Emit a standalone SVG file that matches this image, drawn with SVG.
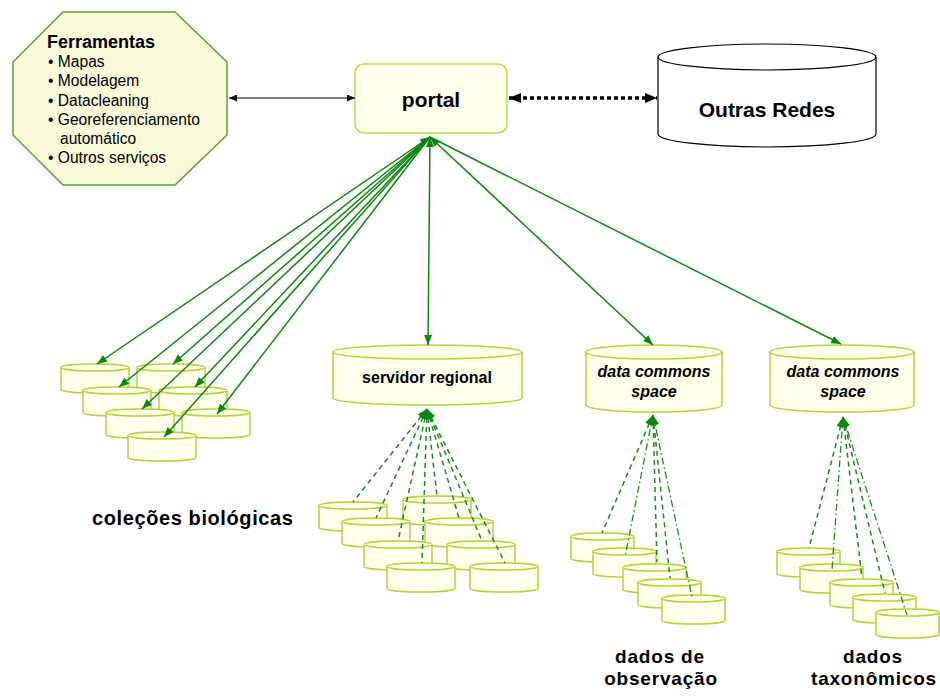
<svg xmlns="http://www.w3.org/2000/svg" width="940" height="696" viewBox="0 0 940 696">
<style>
text{font-family:"Liberation Sans",Arial,sans-serif;fill:#000}
.b{font-weight:bold}
.node{fill:#FFFFEB;stroke:#B2D43A;stroke-width:1.5}
.big{fill:#FFFFEB;stroke:#B2D43A;stroke-width:1.5}
.g{stroke:#0B870B;stroke-width:1.5;fill:none}
.d{stroke:#1A8A1A;stroke-width:1.5;fill:none;stroke-dasharray:5,4}
.dd{stroke:#1A8A1A;stroke-width:1.3;fill:none;stroke-dasharray:7,3,1.5,3}
.lab{font-weight:bold;font-size:19px;letter-spacing:0.8px}
</style>
<defs>
<marker id="ag" viewBox="0 0 10 8" refX="10" refY="4" markerWidth="10" markerHeight="8" markerUnits="userSpaceOnUse" orient="auto-start-reverse"><path d="M0,0 L10,4 L0,8 z" fill="#0B870B"/></marker>
<marker id="ak" viewBox="0 0 8 7" refX="8" refY="3.5" markerWidth="8" markerHeight="7" markerUnits="userSpaceOnUse" orient="auto-start-reverse"><path d="M0,0 L8,3.5 L0,7 z" fill="#000"/></marker>
<marker id="akb" viewBox="0 0 12 10" refX="12" refY="5" markerWidth="12" markerHeight="10" markerUnits="userSpaceOnUse" orient="auto-start-reverse"><path d="M0,0 L12,5 L0,10 z" fill="#000"/></marker>
<g id="cylS"><path class="node" d="M0,3.5 A34,3.5 0 0 1 68,3.5 V25.5 A34,3.5 0 0 1 0,25.5 Z"/><path class="node" fill="none" d="M0,3.5 A34,3.5 0 0 0 68,3.5"/></g>
<g id="cylT"><path class="node" d="M0,3.5 A31.5,3.5 0 0 1 63,3.5 V25.5 A31.5,3.5 0 0 1 0,25.5 Z"/><path class="node" fill="none" d="M0,3.5 A31.5,3.5 0 0 0 63,3.5"/></g>
</defs>
<rect width="940" height="696" fill="#fff"/>

<g id="ferramentas">
<polygon points="63,12 175,12 227,62 227,135 175,185 63,185 13,135 13,62" fill="#FAFADB" stroke="#5BA032" stroke-width="1.5"/>
<text class="b" x="47" y="48" font-size="18">Ferramentas</text>
<text x="48" y="67" font-size="15.6">• Mapas</text>
<text x="48" y="86" font-size="15.6">• Modelagem</text>
<text x="48" y="106" font-size="15.6">• Datacleaning</text>
<text x="48" y="125" font-size="15.6">• Georeferenciamento</text>
<text x="60" y="144" font-size="15.6">automático</text>
<text x="48" y="163" font-size="15.6">• Outros serviços</text>
</g>

<g id="portal">
<rect x="355" y="64" width="152" height="69" rx="9" fill="#FFFFEC" stroke="#B8DC50" stroke-width="1.5"/>
<text class="b" x="431" y="107" font-size="21" text-anchor="middle">portal</text>
</g>

<g id="outras-redes">
<path d="M658,57 A109,13 0 0 1 876,57 V134 A109,13 0 0 1 658,134 Z" fill="#fff" stroke="#000" stroke-width="1.2"/>
<path d="M658,57 A109,13 0 0 0 876,57" fill="none" stroke="#000" stroke-width="1.2"/>
<text class="b" x="767" y="117" font-size="21" text-anchor="middle">Outras Redes</text>
</g>

<g id="servidor-regional">
<path class="big" d="M333,352 A94.5,7 0 0 1 522,352 V398 A94.5,7 0 0 1 333,398 Z"/>
<path class="big" fill="none" d="M333,352 A94.5,7 0 0 0 522,352"/>
<text class="b" x="427" y="383" font-size="16" text-anchor="middle">servidor regional</text>
</g>

<g id="data-commons-1">
<path class="big" d="M586,352 A68,7 0 0 1 722,352 V405 A68,7 0 0 1 586,405 Z"/>
<path class="big" fill="none" d="M586,352 A68,7 0 0 0 722,352"/>
<text class="b" x="654" y="377" font-size="16" font-style="italic" text-anchor="middle">data commons</text>
<text class="b" x="654" y="397" font-size="16" font-style="italic" text-anchor="middle">space</text>
</g>

<g id="data-commons-2">
<path class="big" d="M770,352 A72,7 0 0 1 914,352 V405 A72,7 0 0 1 770,405 Z"/>
<path class="big" fill="none" d="M770,352 A72,7 0 0 0 914,352"/>
<text class="b" x="843" y="377" font-size="16" font-style="italic" text-anchor="middle">data commons</text>
<text class="b" x="843" y="397" font-size="16" font-style="italic" text-anchor="middle">space</text>
</g>

<g id="colecoes">
<use href="#cylS" x="61" y="364"/>
<use href="#cylS" x="137" y="364"/>
<use href="#cylS" x="83" y="387"/>
<use href="#cylS" x="159" y="387"/>
<use href="#cylS" x="106" y="409"/>
<use href="#cylS" x="182" y="409"/>
<use href="#cylS" x="128" y="432"/>
</g>

<g id="regionais">
<use href="#cylS" x="319" y="502"/>
<use href="#cylS" x="403" y="496"/>
<use href="#cylS" x="342" y="518"/>
<use href="#cylS" x="425" y="518"/>
<use href="#cylS" x="364" y="541"/>
<use href="#cylS" x="447" y="541"/>
<use href="#cylS" x="387" y="563"/>
<use href="#cylS" x="470" y="563"/>
</g>

<g id="observacao">
<use href="#cylT" x="571" y="533"/>
<use href="#cylT" x="593" y="548"/>
<use href="#cylT" x="623" y="564"/>
<use href="#cylT" x="638" y="579"/>
<use href="#cylT" x="662" y="595"/>
</g>

<g id="taxonomicos">
<use href="#cylT" x="777" y="548"/>
<use href="#cylT" x="800" y="564"/>
<use href="#cylT" x="830" y="579"/>
<use href="#cylT" x="853" y="594"/>
<use href="#cylT" x="876" y="609"/>
</g>

<g id="labels">
<text class="b" x="92" y="525" font-size="20" letter-spacing="0.6">coleções biológicas</text>
<text class="lab" x="660" y="663" text-anchor="middle">dados de</text>
<text class="lab" x="661" y="685" text-anchor="middle">observação</text>
<text class="lab" x="873" y="663" text-anchor="middle">dados</text>
<text class="lab" x="874" y="685" text-anchor="middle">taxonômicos</text>
</g>

<g id="connectors">
<line x1="229" y1="98" x2="355" y2="98" stroke="#000" stroke-width="1.2" marker-start="url(#ak)" marker-end="url(#ak)"/>
<line x1="509" y1="98" x2="657" y2="98" stroke="#000" stroke-width="3.5" stroke-dasharray="4,3" marker-start="url(#akb)" marker-end="url(#akb)"/>

<g class="g">
<line x1="430" y1="137" x2="97" y2="364" marker-start="url(#ag)" marker-end="url(#ag)"/>
<line x1="430" y1="137" x2="173" y2="364" marker-end="url(#ag)"/>
<line x1="430" y1="137" x2="119" y2="387" marker-end="url(#ag)"/>
<line x1="430" y1="137" x2="195" y2="387" marker-end="url(#ag)"/>
<line x1="430" y1="137" x2="142" y2="409" marker-end="url(#ag)"/>
<line x1="430" y1="137" x2="217" y2="414" marker-end="url(#ag)"/>
<line x1="430" y1="137" x2="164" y2="437" marker-end="url(#ag)"/>
<line x1="430" y1="137" x2="428" y2="345" marker-start="url(#ag)" marker-end="url(#ag)"/>
<line x1="430" y1="137" x2="653" y2="345" marker-start="url(#ag)" marker-end="url(#ag)"/>
<line x1="430" y1="137" x2="841" y2="344" marker-end="url(#ag)"/>
</g>

<g>
<line class="d" x1="427" y1="409" x2="353" y2="502" marker-start="url(#ag)"/>
<line class="d" x1="427" y1="409" x2="376" y2="518" marker-start="url(#ag)"/>
<line class="d" x1="427" y1="409" x2="398" y2="541" marker-start="url(#ag)"/>
<line class="d" x1="427" y1="409" x2="422" y2="563" marker-start="url(#ag)"/>
<line class="d" x1="427" y1="409" x2="437" y2="496" marker-start="url(#ag)"/>
<line class="d" x1="427" y1="409" x2="459" y2="518" marker-start="url(#ag)"/>
<line class="d" x1="427" y1="409" x2="482" y2="541" marker-start="url(#ag)"/>
<line class="d" x1="427" y1="409" x2="505" y2="563" marker-start="url(#ag)"/>
</g>

<g>
<line class="d" x1="653" y1="415" x2="602" y2="533" marker-start="url(#ag)"/>
<line class="dd" x1="653" y1="415" x2="625" y2="557" marker-start="url(#ag)"/>
<line class="d" x1="653" y1="415" x2="657" y2="562" marker-start="url(#ag)"/>
<line class="d" x1="653" y1="415" x2="670" y2="578" marker-start="url(#ag)"/>
<line class="dd" x1="653" y1="415" x2="692" y2="597" marker-start="url(#ag)"/>
</g>

<g>
<line class="d" x1="843" y1="417" x2="809" y2="548" marker-start="url(#ag)"/>
<line class="dd" x1="843" y1="417" x2="832" y2="570" marker-start="url(#ag)"/>
<line class="d" x1="843" y1="417" x2="862" y2="578" marker-start="url(#ag)"/>
<line class="d" x1="843" y1="417" x2="885" y2="593" marker-start="url(#ag)"/>
<line class="dd" x1="843" y1="417" x2="907" y2="615" marker-start="url(#ag)"/>
</g>
</g>
</svg>
